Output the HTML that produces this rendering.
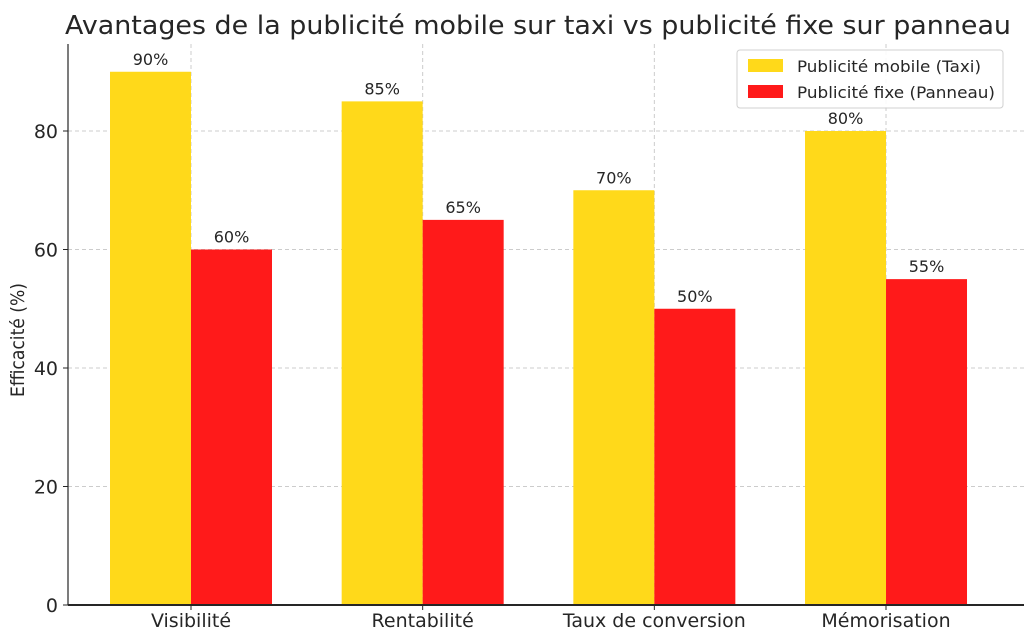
<!DOCTYPE html>
<html><head><meta charset="utf-8"><style>body{margin:0;background:#fff}svg{display:block}</style></head>
<body>
<svg id="chart" width="1024" height="644" xmlns="http://www.w3.org/2000/svg" font-family="DejaVu Sans, Liberation Sans, sans-serif">
<text x="538" y="34" font-size="26" text-anchor="middle" fill="#262626" textLength="946" lengthAdjust="spacingAndGlyphs">Avantages de la publicité mobile sur taxi vs publicité fixe sur panneau</text>
<g id="grid"></g><g id="bars"></g><g id="labels"></g><g id="axes"></g>
<text transform="translate(24,340) rotate(-90)" font-size="19" text-anchor="middle" fill="#262626" textLength="114" lengthAdjust="spacingAndGlyphs">Efficacité (%)</text>
<g>
<rect x="737" y="50" width="266" height="58" rx="3" fill="#fff" stroke="#ccc" opacity="0.9"/>
<rect x="748" y="59" width="35" height="13" fill="#FFD91A"/>
<text x="797" y="72" font-size="16" fill="#262626" textLength="184" lengthAdjust="spacingAndGlyphs">Publicité mobile (Taxi)</text>
<rect x="748" y="85" width="35" height="13" fill="#FF1A1A"/>
<text x="797" y="98" font-size="16" fill="#262626" textLength="198" lengthAdjust="spacingAndGlyphs">Publicité fixe (Panneau)</text>
</g>
</svg>
<script>
const categories=["Visibilité","Rentabilité","Taux de conversion","Mémorisation"];
const mobile=[90,85,70,80];
const fixe=[60,65,50,55];
const yTicks=[0,20,40,60,80];
const NS="http://www.w3.org/2000/svg";
const y0=605,pxPerUnit=118.5/20;
const yS=v=>y0-v*pxPerUnit;
const xC=i=>191+i*231.67;
const bw=81;
function mk(t,a,p,txt){const e=document.createElementNS(NS,t);for(const k in a)e.setAttribute(k,a[k]);if(txt!==undefined)e.textContent=txt;p.appendChild(e);return e;}
const grid=document.getElementById('grid'),bars=document.getElementById('bars'),labels=document.getElementById('labels'),axes=document.getElementById('axes');
yTicks.forEach(t=>{
 if(t>0){const g=mk('line',{x1:68,x2:1024,y1:yS(t),y2:yS(t),stroke:'#ccc','stroke-dasharray':'4,3'},grid);
 
 }
 mk('line',{x1:63,x2:68,y1:yS(t),y2:yS(t),stroke:'#262626'},axes);
 const l=mk('text',{x:58,y:yS(t)+7,'font-size':19,'text-anchor':'end',fill:'#262626'},axes,String(t));
 
 
});
categories.forEach((c,i)=>{
 const gx=mk('line',{x1:xC(i),x2:xC(i),y1:44,y2:y0,stroke:'#ccc','stroke-dasharray':'4,3'},grid);
 
 
 const b1=mk('rect',{x:xC(i)-bw,y:yS(mobile[i]),width:bw,height:y0-yS(mobile[i]),fill:'#FFD91A'},bars);
 
 
 const b2=mk('rect',{x:xC(i),y:yS(fixe[i]),width:bw,height:y0-yS(fixe[i]),fill:'#FF1A1A'},bars);
 
 
 const v1=mk('text',{x:xC(i)-bw/2,y:yS(mobile[i])-7,'font-size':16,'text-anchor':'middle',fill:'#262626'},labels,mobile[i]+'%');
 
 
 const v2=mk('text',{x:xC(i)+bw/2,y:yS(fixe[i])-7,'font-size':16,'text-anchor':'middle',fill:'#262626'},labels,fixe[i]+'%');
 
 
 mk('line',{x1:xC(i),x2:xC(i),y1:y0,y2:y0+5,stroke:'#262626'},axes);
 const xl=mk('text',{x:xC(i),y:627,'font-size':19,'text-anchor':'middle',fill:'#262626'},axes,c);
 
 
});
mk('line',{x1:68,x2:68,y1:44,y2:y0,stroke:'#262626','stroke-width':1.2},axes);
mk('line',{x1:68,x2:1024,y1:y0,y2:y0,stroke:'#262626','stroke-width':2},axes);
</script>
</body></html>
